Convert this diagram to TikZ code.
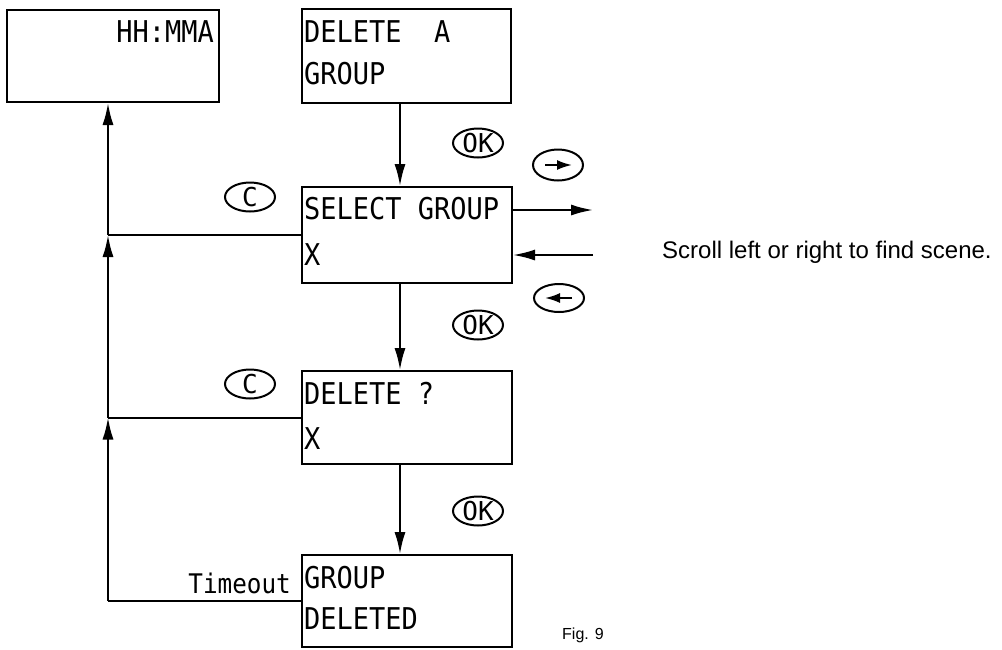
\documentclass[tikz,border=0pt]{standalone}
\usepackage{fontspec}
\setmainfont{Liberation Sans}
\newfontfamily\lcdfont[FakeStretch=0.9]{DejaVu Sans Mono}
\newfontfamily\btnfont{DejaVu Sans Mono}
\usetikzlibrary{arrows.meta,shapes.geometric}
\begin{document}
\begin{tikzpicture}[x=1pt,y=-1pt,
  box/.style={draw, line width=2pt, inner sep=0pt},
  lcd/.style={inner sep=0pt, anchor=base west, font=\lcdfont\fontsize{30}{30}\selectfont},
  btn/.style={draw, ellipse, line width=2pt, minimum width=50pt, minimum height=29pt, inner sep=0pt, font=\btnfont\fontsize{26}{26}\selectfont},
  conn/.style={line width=2pt, -{Latex[length=22pt,width=11pt]}},
  small/.style={line width=2pt, -{Latex[length=15pt,width=10pt]}},
  wire/.style={line width=2pt}
]
\useasboundingbox (0,0) rectangle (1002,649);
% boxes
\node[box, minimum width=212pt, minimum height=92pt] (b0) at (113,56) {};
\node[box, minimum width=209pt, minimum height=94pt] (b1) at (406.5,56) {};
\node[box, minimum width=210pt, minimum height=96pt] (b2) at (407,235) {};
\node[box, minimum width=210pt, minimum height=93pt] (b3) at (407,417.5) {};
\node[box, minimum width=210pt, minimum height=92pt] (b4) at (407,601) {};
% box texts
\node[lcd, anchor=base east] (t0) at (214,42) {HH:MMA};
\node[lcd] (t1a) at (304,42) {DELETE\ \ A};
\node[lcd] (t1b) at (304,84) {GROUP};
\node[lcd] (t2a) at (304,219) {SELECT GROUP};
\node[lcd] (t2b) at (304,265) {X};
\node[lcd] (t3a) at (304,404) {DELETE ?};
\node[lcd] (t3b) at (304,449) {X};
\node[lcd] (t4a) at (304,588) {GROUP};
\node[lcd] (t4b) at (304,629) {DELETED};
% helper coordinates
\coordinate (ax) at (400,0);
\coordinate (lx) at (108,0);
\coordinate (r1) at (593,210);
\coordinate (r2) at (593,255);
% main flow
\draw[conn] (b1.south -| ax) -- (b2.north -| ax);
\draw[conn] (b2.south -| ax) -- (b3.north -| ax);
\draw[conn] (b3.south -| ax) -- (b4.north -| ax);
% scroll arrows
\draw[conn] (b2.east |- r1) -- (r1);
\draw[conn] (r2) -- (b2.east |- r2);
% return path
\draw[wire] (b4.west) -- (b4.west -| lx);
\draw[wire] (b3.west) -- (b3.west -| lx);
\draw[wire] (b2.west) -- (b2.west -| lx);
\draw[conn] (b4.west -| lx) -- (b3.west -| lx);
\draw[conn] (b3.west -| lx) -- (b2.west -| lx);
\draw[conn] (b2.west -| lx) -- (b0.south -| lx);
% buttons
\node[btn] (ok1) at (478,143) {OK};
\node[btn] (ok2) at (478,325) {OK};
\node[btn] (ok3) at (478,511) {OK};
\node[btn] (c1) at (250,197) {C};
\node[btn] (c2) at (250,384) {C};
\node[btn, minimum height=31pt] (rb) at (558,165) {};
\node[btn, minimum height=28pt] (lb) at (559,298) {};
\draw[small] ([xshift=-13pt]rb.center) -- ([xshift=14pt]rb.center);
\draw[small] ([xshift=13pt]lb.center) -- ([xshift=-14pt]lb.center);
% labels
\node[inner sep=0pt, anchor=base east, font=\lcdfont\fontsize{27}{27}\selectfont] (to) at (291,593) {Timeout};
\node[inner sep=0pt, anchor=base west, font=\fontsize{24}{24}\selectfont] (note) at (662,258) {Scroll left or right to find scene.};
\node[inner sep=0pt, anchor=base west, font=\fontsize{16}{16}\selectfont] (fig) at (562,639) {Fig. 9};
\end{tikzpicture}
\end{document}
